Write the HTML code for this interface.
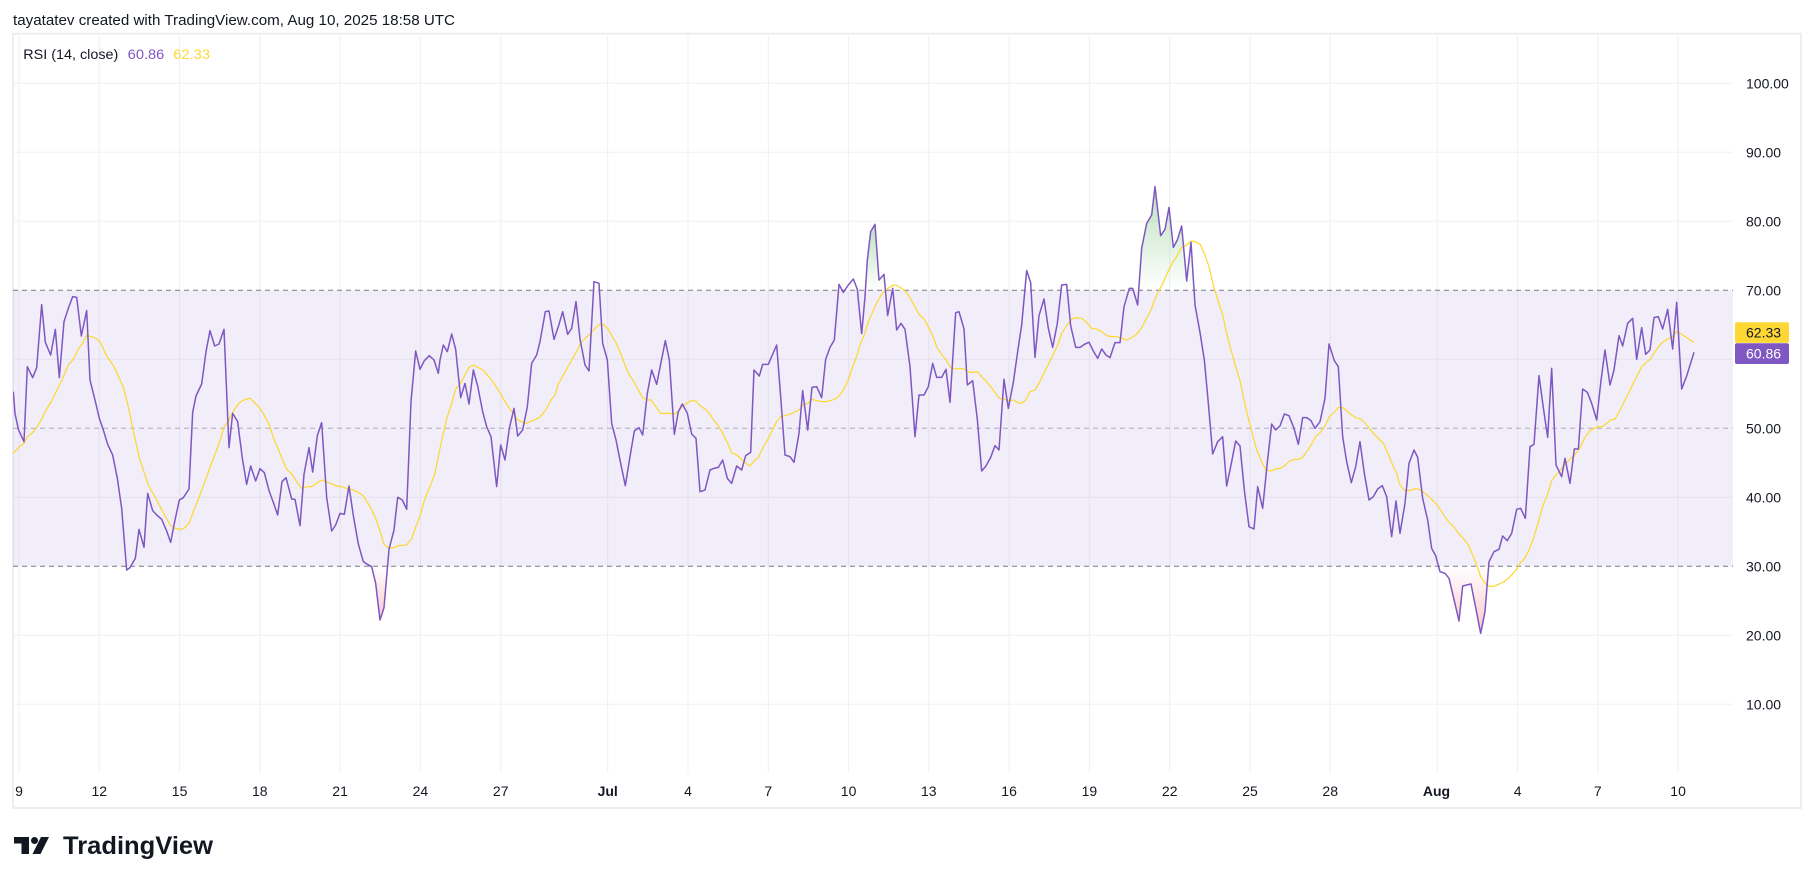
<!DOCTYPE html>
<html>
<head>
<meta charset="utf-8">
<style>
html,body{margin:0;padding:0;background:#ffffff;}
body{width:1814px;height:883px;overflow:hidden;}
svg{display:block;font-family:"Liberation Sans",Arial,sans-serif;}
</style>
</head>
<body>
<svg width="1814" height="883" viewBox="0 0 1814 883" xmlns="http://www.w3.org/2000/svg">
<defs>
  <clipPath id="plot"><rect x="13" y="35" width="1720" height="738"/></clipPath>
  <linearGradient id="gGreen" x1="0" y1="0" x2="0" y2="1">
    <stop offset="0" stop-color="#4caf50" stop-opacity="0.38"/>
    <stop offset="1" stop-color="#4caf50" stop-opacity="0"/>
  </linearGradient>
  <linearGradient id="gRed" x1="0" y1="0" x2="0" y2="1">
    <stop offset="0" stop-color="#f23645" stop-opacity="0"/>
    <stop offset="1" stop-color="#f23645" stop-opacity="0.28"/>
  </linearGradient>
</defs>

<rect x="0" y="0" width="1814" height="883" fill="#ffffff"/>

<!-- header -->
<text x="13" y="25" font-size="14.5" fill="#131722" textLength="442" lengthAdjust="spacingAndGlyphs">tayatatev created with TradingView.com, Aug 10, 2025 18:58 UTC</text>

<!-- frame -->
<rect x="13" y="33.7" width="1788" height="774.3" fill="none" stroke="#eeeeee" stroke-width="2"/>

<!-- vertical grid -->
<g stroke="#f0f0f3" stroke-width="1">
  <line x1="19" y1="35" x2="19" y2="773"/>
  <line x1="99.3" y1="35" x2="99.3" y2="773"/>
  <line x1="179.6" y1="35" x2="179.6" y2="773"/>
  <line x1="259.8" y1="35" x2="259.8" y2="773"/>
  <line x1="340.1" y1="35" x2="340.1" y2="773"/>
  <line x1="420.4" y1="35" x2="420.4" y2="773"/>
  <line x1="500.7" y1="35" x2="500.7" y2="773"/>
  <line x1="607.7" y1="35" x2="607.7" y2="773"/>
  <line x1="688" y1="35" x2="688" y2="773"/>
  <line x1="768.3" y1="35" x2="768.3" y2="773"/>
  <line x1="848.6" y1="35" x2="848.6" y2="773"/>
  <line x1="928.8" y1="35" x2="928.8" y2="773"/>
  <line x1="1009.1" y1="35" x2="1009.1" y2="773"/>
  <line x1="1089.4" y1="35" x2="1089.4" y2="773"/>
  <line x1="1169.7" y1="35" x2="1169.7" y2="773"/>
  <line x1="1250" y1="35" x2="1250" y2="773"/>
  <line x1="1330.2" y1="35" x2="1330.2" y2="773"/>
  <line x1="1437.3" y1="35" x2="1437.3" y2="773"/>
  <line x1="1517.6" y1="35" x2="1517.6" y2="773"/>
  <line x1="1597.8" y1="35" x2="1597.8" y2="773"/>
  <line x1="1678.1" y1="35" x2="1678.1" y2="773"/>
</g>
<!-- horizontal grid -->
<g stroke="#f0f0f3" stroke-width="1">
  <line x1="13" y1="83.3" x2="1733" y2="83.3"/>
  <line x1="13" y1="152.3" x2="1733" y2="152.3"/>
  <line x1="13" y1="221.3" x2="1733" y2="221.3"/>
  <line x1="13" y1="359.3" x2="1733" y2="359.3"/>
  <line x1="13" y1="497.3" x2="1733" y2="497.3"/>
  <line x1="13" y1="635.3" x2="1733" y2="635.3"/>
  <line x1="13" y1="704.3" x2="1733" y2="704.3"/>
</g>

<!-- band -->
<rect x="13" y="290.3" width="1720" height="276" fill="#7e57c2" fill-opacity="0.1"/>
<line x1="13" y1="290.3" x2="1733" y2="290.3" stroke="#787b86" stroke-width="1" stroke-dasharray="5,4"/>
<line x1="13" y1="428.3" x2="1733" y2="428.3" stroke="#787b86" stroke-opacity="0.55" stroke-width="1" stroke-dasharray="5,4"/>
<line x1="13" y1="566.3" x2="1733" y2="566.3" stroke="#787b86" stroke-width="1" stroke-dasharray="5,4"/>

<g clip-path="url(#plot)">
  <!-- fills -->
  <g transform="translate(860,170) scale(0.333333)">
    <polygon fill="url(#gGreen)" points="16.2,361 22,270 32,185 45,163 57,330 72,313 76.3,361"/>
    <polygon fill="url(#gGreen)" points="836.1,361 845,235 860,160 875,135 885,50 902,197 915,178 927,112 940,232 952,210 965,168 980,333 993,217 1002.2,361"/>
  </g>
  <g transform="translate(10,270) scale(0.333333)">
    <polygon fill="url(#gRed)" points="1084,889 1085,890 1097,940 1110,1050 1122,1013 1132.6,889"/>
  </g>
  <g transform="translate(1290,270) scale(0.333333)">
    <polygon fill="url(#gRed)" points="445.7,889 450,905 465,910 477,925 490,980 507,1053 518,948 530,945 543,942 557,1013 572,1090 585,1025 595.9,889"/>
  </g>

  <!-- yellow MA -->
  <g fill="none" stroke="#fdd835" stroke-width="1.25" stroke-linejoin="round" vector-effect="non-scaling-stroke">
    <polyline vector-effect="non-scaling-stroke" transform="translate(10,270) scale(0.333333)" points="10,550 25,533 42,520 52,500 68,488 80,473 95,448 108,420 125,393 140,362 155,332 175,285 190,268 205,237 218,220 230,196 245,200 258,205 270,215 290,258 310,287 325,318 340,352 355,410 370,483 388,563 400,600 415,645 440,690 460,728 480,765 495,775 510,778 522,775 538,758 550,725 570,675 590,620 605,578 618,546 632,505 642,470 655,455 665,432 682,405 697,392 720,384 735,400 750,415 765,440 778,465 790,503 805,538 818,570 830,598 845,612 860,635 875,655 890,650 905,650 920,640 935,630 950,635 965,642 980,648 995,650 1010,655 1030,660 1045,667 1060,678 1080,710 1095,740 1110,783 1122,823 1137,835 1152,833 1165,827 1190,825 1205,806 1218,768 1230,738 1245,685 1260,650 1275,610 1290,535"/>
    <polyline vector-effect="non-scaling-stroke" transform="translate(440,260) scale(0.333333)" points="0,565 10,520 22,470 35,430 47,388 62,370 75,345 87,322 100,315 113,322 128,330 140,343 153,358 165,375 180,398 195,425 208,445 220,460 233,480 245,485 258,490 270,485 283,480 297,473 308,462 320,445 333,420 345,405 355,372 370,345 385,318 398,295 410,275 423,248 437,233 450,222 465,205 480,192 492,195 505,208 518,232 530,252 542,280 555,315 568,345 582,366 595,390 608,413 622,420 633,420 647,440 662,460 690,460 703,463 715,453 730,437 742,428 755,422 768,423 780,437 795,447 808,460 822,482 835,497 848,520 862,548 875,578 890,585 905,598 918,610 930,618 942,603 955,592 968,565 982,540 995,515 1010,485 1022,470 1035,467 1050,462 1063,457 1077,450 1090,435 1103,430 1117,418 1130,422 1145,425 1158,425 1170,422 1183,418 1197,408 1210,390 1225,360 1238,320 1250,290 1260,255"/>
    <polyline vector-effect="non-scaling-stroke" transform="translate(860,170) scale(0.333333)" points="0,525 12,497 25,455 37,428 50,400 62,378 73,363 87,353 100,345 110,346 125,355 137,365 150,383 165,410 177,433 192,447 205,470 218,497 232,535 245,553 258,570 272,593 285,597 300,595 315,598 328,607 340,607 352,605 365,620 378,633 392,650 405,667 418,685 432,687 445,692 460,690 472,697 485,700 497,690 510,665 525,660 537,640 550,612 565,583 578,557 592,528 605,490 620,467 635,447 650,443 665,445 680,458 695,475 710,477 725,485 740,497 755,500 770,500 785,505 800,510 815,503 830,493 845,473 858,448 873,420 885,387 898,360 912,332 925,303 938,277 950,260 965,232 980,225 993,213 1005,215 1020,222 1033,250 1047,290 1060,345 1075,395 1088,435 1100,490 1113,540 1127,590 1140,632 1152,690 1165,745 1178,795 1190,840 1205,875 1218,900 1232,903 1247,897 1260,895 1273,888 1287,875 1290,873"/>
    <polyline vector-effect="non-scaling-stroke" transform="translate(1290,270) scale(0.333333)" points="0,573 12,568 25,568 38,562 50,545 63,525 77,500 90,488 105,468 118,440 133,427 145,412 158,413 170,422 185,435 197,443 212,447 225,458 240,478 255,495 268,508 282,523 295,553 308,585 320,610 330,645 345,662 358,662 372,657 385,657 398,665 413,677 425,688 440,703 453,722 467,743 480,760 493,772 505,790 520,805 535,825 548,855 560,885 572,920 588,943 600,950 615,948 628,942 642,935 655,925 668,912 680,898 690,880 705,863 718,838 732,800 745,757 757,712 772,675 785,632 798,615 812,600 825,582 840,568 855,553 868,537 882,508 897,485 912,475 925,470 937,470 950,460 962,450 975,447 988,425 1000,400 1013,375 1025,350 1040,320 1055,290 1068,278 1080,268 1092,250 1107,228 1120,215 1133,208 1147,200 1160,185 1175,193 1190,203 1212,217"/>
  </g>

  <!-- purple RSI -->
  <g fill="none" stroke="#7e57c2" stroke-width="1.5" stroke-linejoin="round">
    <polyline vector-effect="non-scaling-stroke" transform="translate(10,270) scale(0.333333)" points="10,365 15,430 25,478 42,515 52,290 68,323 80,293 95,104 106,217 122,255 136,178 148,323 162,155 175,115 188,80 200,82 214,198 230,122 240,330 255,390 268,445 280,480 293,523 308,555 322,625 335,715 350,900 360,893 376,865 387,778 402,832 413,670 428,722 440,735 455,748 470,783 482,817 494,755 508,690 520,683 537,657 548,427 558,378 575,342 588,245 600,182 614,228 627,222 642,178 657,533 668,430 683,455 697,565 710,643 722,588 737,633 750,596 763,608 778,665 790,697 803,735 816,635 828,623 845,687 855,688 870,767 882,613 897,533 908,606 922,497 935,458 950,682 965,783 977,765 990,730 1003,733 1017,648 1030,737 1045,822 1060,875 1072,883 1085,890 1097,940 1110,1050 1122,1013 1137,838 1152,780 1163,682 1177,690 1190,718 1203,395 1217,243 1230,298 1243,272 1258,257 1272,270 1285,310 1290,270"/>
    <polyline vector-effect="non-scaling-stroke" transform="translate(440,260) scale(0.333333)" points="0,300 10,255 22,275 35,222 47,268 62,413 75,370 87,432 100,330 113,378 128,455 140,500 153,530 170,680 182,555 195,600 208,505 222,445 233,528 248,510 262,440 275,310 290,285 300,245 316,155 327,153 342,238 355,200 368,155 383,223 395,205 408,125 420,237 435,315 447,333 462,65 477,70 488,250 502,300 515,490 528,540 542,610 556,677 570,590 583,513 597,503 608,525 622,400 635,330 650,373 663,307 676,242 688,300 703,523 715,455 727,432 742,460 755,522 768,535 780,695 795,690 810,630 822,625 835,622 848,600 862,655 875,670 890,618 905,630 917,587 932,577 942,330 958,348 968,313 985,313 997,285 1010,255 1022,410 1035,585 1050,590 1062,607 1077,520 1088,392 1103,510 1116,382 1130,380 1145,413 1157,298 1170,262 1183,240 1197,73 1210,97 1225,75 1240,57 1252,88 1265,222"/>
    <polyline vector-effect="non-scaling-stroke" transform="translate(860,170) scale(0.333333)" points="5,492 15,380 22,270 32,185 45,163 57,330 72,313 83,437 98,355 110,480 123,460 135,478 150,590 165,800 177,675 192,675 205,650 218,580 230,622 245,622 258,598 270,697 287,428 297,425 312,477 322,645 338,632 352,748 365,903 378,888 392,862 405,827 417,840 432,628 445,715 460,637 473,545 485,465 500,302 512,338 525,562 537,437 552,387 565,475 578,532 592,460 605,345 620,343 632,467 647,532 660,532 675,522 687,517 700,543 713,565 725,537 738,555 750,563 765,518 780,518 792,410 808,355 818,355 833,405 845,235 860,160 875,135 885,50 902,197 915,178 927,112 940,232 952,210 965,168 980,333 993,217 1005,405 1020,487 1033,570 1045,700 1058,852 1073,815 1088,800 1100,948 1115,875 1127,813 1140,828 1153,960 1167,1070 1182,1077 1193,950 1208,1015 1222,877 1235,762 1247,780 1260,768 1273,732 1287,737 1302,775"/>
    <polyline vector-effect="non-scaling-stroke" transform="translate(1290,270) scale(0.333333)" points="12,475 25,523 38,443 50,443 63,452 75,475 90,455 105,385 117,222 133,272 145,290 158,500 170,575 184,638 197,590 210,515 223,610 237,690 250,680 263,657 277,647 290,680 305,800 318,693 330,790 345,700 357,580 372,540 383,562 398,685 413,750 425,835 437,857 450,905 465,910 477,925 490,980 507,1053 518,948 530,945 543,942 557,1013 572,1090 585,1025 597,875 612,845 627,838 638,798 652,812 665,790 680,718 692,715 706,745 720,530 732,523 747,317 760,413 773,502 785,295 798,585 815,620 825,565 840,640 853,537 865,537 878,357 892,367 905,400 920,450 932,340 945,240 960,345 972,300 987,197 998,228 1013,160 1028,145 1040,268 1055,173 1067,253 1080,240 1092,143 1105,140 1118,177 1133,118 1148,237 1160,97 1175,357 1190,318 1212,247"/>
  </g>
</g>

<!-- legend -->
<text x="23.3" y="59" font-size="14" fill="#131722" textLength="95" lengthAdjust="spacingAndGlyphs">RSI (14, close)</text>
<text x="127.7" y="59" font-size="14" fill="#7e57c2" textLength="36.6" lengthAdjust="spacingAndGlyphs">60.86</text>
<text x="173.3" y="59" font-size="14" fill="#fdd835" textLength="36.7" lengthAdjust="spacingAndGlyphs">62.33</text>

<!-- y axis labels -->
<g font-size="14" fill="#131722">
  <text x="1746" y="88.3">100.00</text>
  <text x="1746" y="157.3">90.00</text>
  <text x="1746" y="226.3">80.00</text>
  <text x="1746" y="295.3">70.00</text>
  <text x="1746" y="433.3">50.00</text>
  <text x="1746" y="502.3">40.00</text>
  <text x="1746" y="571.3">30.00</text>
  <text x="1746" y="640.3">20.00</text>
  <text x="1746" y="709.3">10.00</text>
</g>

<!-- badges -->
<rect x="1735" y="322.3" width="54" height="20.6" rx="2" fill="#fdd835"/>
<text x="1746" y="337.6" font-size="14" fill="#131722">62.33</text>
<rect x="1735" y="343.2" width="54" height="20.8" rx="2" fill="#7e57c2"/>
<text x="1746" y="358.6" font-size="14" fill="#ffffff">60.86</text>

<!-- x axis labels -->
<g font-size="14" fill="#131722" text-anchor="middle">
  <text x="19" y="796">9</text>
  <text x="99.3" y="796">12</text>
  <text x="179.6" y="796">15</text>
  <text x="259.8" y="796">18</text>
  <text x="340.1" y="796">21</text>
  <text x="420.4" y="796">24</text>
  <text x="500.7" y="796">27</text>
  <text x="607.7" y="796" font-weight="bold">Jul</text>
  <text x="688" y="796">4</text>
  <text x="768.3" y="796">7</text>
  <text x="848.6" y="796">10</text>
  <text x="928.8" y="796">13</text>
  <text x="1009.1" y="796">16</text>
  <text x="1089.4" y="796">19</text>
  <text x="1169.7" y="796">22</text>
  <text x="1250" y="796">25</text>
  <text x="1330.2" y="796">28</text>
  <text x="1436.5" y="796" font-weight="bold">Aug</text>
  <text x="1517.6" y="796">4</text>
  <text x="1597.8" y="796">7</text>
  <text x="1678.1" y="796">10</text>
</g>

<!-- TradingView logo -->
<g fill="#131722">
  <path d="M14 837 H29 V854 H21.5 V843.5 H14 Z"/>
  <circle cx="34.5" cy="840.5" r="3.5"/>
  <path d="M41 837 H49 L40.5 854 H32.5 Z"/>
</g>
<text x="63" y="854" font-size="25" font-weight="bold" fill="#131722" textLength="150" lengthAdjust="spacingAndGlyphs">TradingView</text>
</svg>
</body>
</html>
